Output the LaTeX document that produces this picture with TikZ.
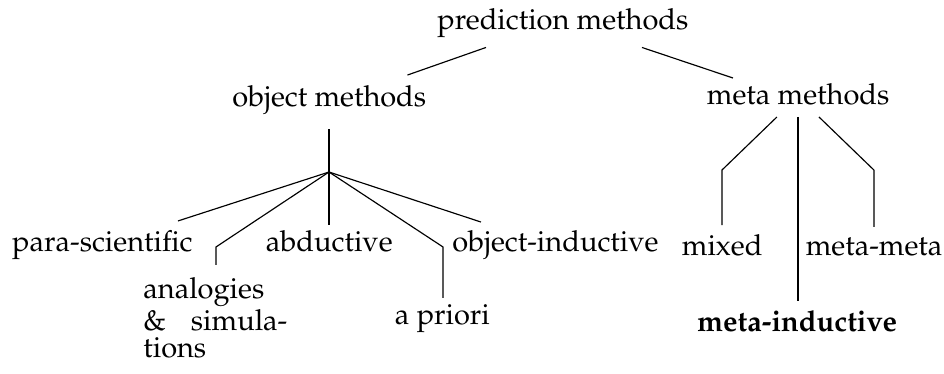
\documentclass[tikz,border=0pt]{standalone}
\usepackage[T1]{fontenc}
\usepackage{mathpazo}
\usepackage{tikz}
\usetikzlibrary{positioning, calc}
\hyphenation{sim-u-la-tions}

\begin{document}
\begin{tikzpicture}[
    method/.style={anchor=base, inner sep=0pt, font=\fontsize{10}{9.1}\selectfont},
    branch/.style={draw, line width=0.4pt, line join=miter}
]

    \useasboundingbox (0,0) rectangle (11.437,4.531);

    % Place methods
    \node[method] (pred) at (6.82,4.17) {prediction methods};
    \node[method] (obj) at (3.99,3.24) {object methods};
    \node[method] (meta) at (9.67,3.26) {meta methods};

    \node[method] (para) at (1.24,1.48) {para-scientific};
    \node[method] (abd) at (3.99,1.48) {abductive};
    \node[method] (objind) at (6.73,1.48) {object-inductive};
    \node[method, anchor=north west, text width=1.745cm, align=justify] (analog) at (1.73,1.175) {analogies \& simulations};
    \node[method] (apriori) at (5.36,0.594) {a priori};

    \node[method] (mixed) at (8.75,1.44) {mixed};
    \node[method] (metameta) at (10.59,1.44) {meta-meta};
    \node[method, font=\bfseries] (metaind) at (9.66,0.509) {meta-inductive};

    % Branch points
    \coordinate (pred-o) at (5.888,3.956);
    \coordinate (pred-m) at (7.778,3.956);
    \coordinate (obj-p) at (4.937,3.622);
    \coordinate (meta-p) at (8.880,3.586);
    \coordinate (obj-d) at (3.986,2.968);
    \coordinate (hub) at (3.986,2.447);
    \coordinate (para-u) at (2.156,1.854);
    \coordinate (analog-k) at (2.617,1.539);
    \coordinate (analog-u) at (2.617,1.321);
    \coordinate (abd-u) at (3.986,1.805);
    \coordinate (apriori-k) at (5.367,1.539);
    \coordinate (apriori-u) at (5.367,0.921);
    \coordinate (objind-u) at (5.827,1.841);
    \coordinate (meta-l) at (9.413,3.114);
    \coordinate (meta-c) at (9.668,3.114);
    \coordinate (meta-r) at (9.922,3.114);
    \coordinate (mixed-k) at (8.747,2.471);
    \coordinate (mixed-u) at (8.747,1.805);
    \coordinate (metaind-u) at (9.668,0.884);
    \coordinate (metameta-k) at (10.588,2.471);
    \coordinate (metameta-u) at (10.588,1.781);

    % Top level
    \path[branch] (pred-o) -- (obj-p);
    \path[branch] (pred-m) -- (meta-p);

    % Object methods
    \path[branch] (obj-d) -- (hub);
    \path[branch] (hub) -- (para-u);
    \path[branch] (hub) -- (analog-k) -- (analog-u);
    \path[branch] (hub) -- (abd-u);
    \path[branch] (hub) -- (apriori-k) -- (apriori-u);
    \path[branch] (hub) -- (objind-u);

    % Meta methods
    \path[branch] (meta-l) -- (mixed-k) -- (mixed-u);
    \path[branch] (meta-c) -- (metaind-u);
    \path[branch] (meta-r) -- (metameta-k) -- (metameta-u);

\end{tikzpicture}
\end{document}
